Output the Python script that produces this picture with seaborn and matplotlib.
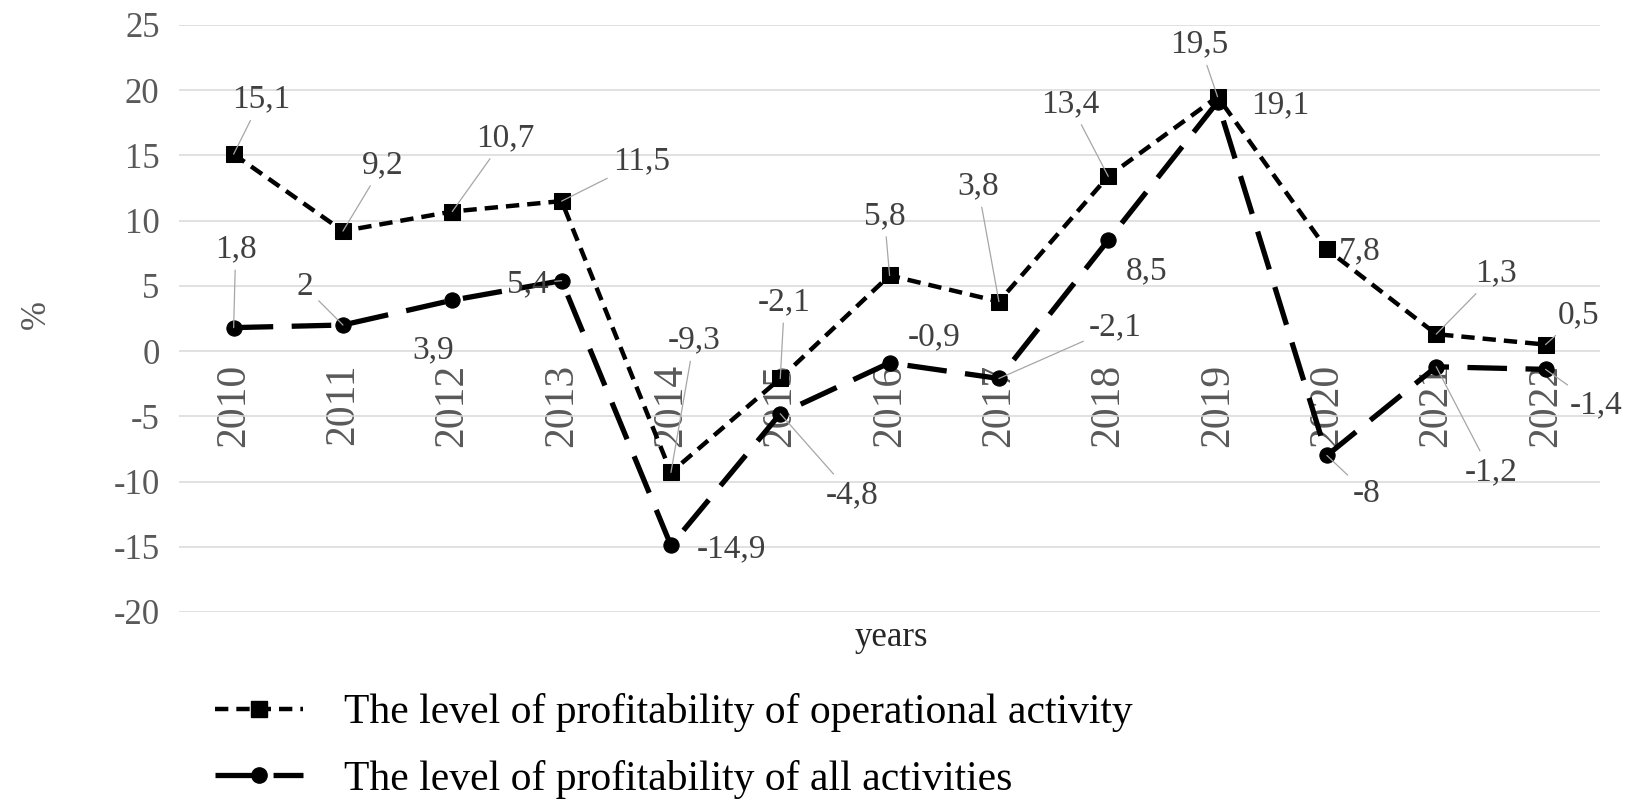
import matplotlib
matplotlib.use("Agg")
import matplotlib.pyplot as plt
from matplotlib.lines import Line2D
import pandas as pd
import numpy as np
import seaborn as sns

# data
years = [2010, 2011, 2012, 2013, 2014, 2015, 2016, 2017, 2018, 2019, 2020, 2021, 2022]
operational = [15.1, 9.2, 10.7, 11.5, -9.3, -2.1, 5.8, 3.8, 13.4, 19.5, 7.8, 1.3, 0.5]
all_activities = [1.8, 2.0, 3.9, 5.4, -14.9, -4.8, -0.9, -2.1, 8.5, 19.1, -8.0, -1.2, -1.4]
name_op = "The level of profitability of operational activity"
name_all = "The level of profitability of all activities"

# label placement (pixel offsets from the point, as Excel put them) and leader lines
op_offsets = [(26, -52), (38, -63), (50, -70), (76, -38), (22, -126), (4, -73), (-5, -57),
              (-20, -110), (-36, -69), (-17, -50), (31, 2), (57, -58), (31, -28)]
op_leader = [1, 1, 1, 1, 1, 1, 1, 1, 1, 1, 0, 1, 1]
all_offsets = [(2, -75), (-36, -36), (-18, 47), (-32, 3), (58, 3), (68, 77), (42, -25),
               (111, -49), (36, 29), (60, 3), (38, 36), (52, 100), (48, 34)]
all_leader = [1, 1, 0, 1, 0, 1, 0, 1, 0, 0, 1, 1, 1]

sns.set_style("white")
plt.rcParams['font.family'] = ['Liberation Serif', 'DejaVu Serif']
plt.rcParams['axes.unicode_minus'] = False

grey_txt = "#595959"
lbl_txt = "#404040"

fig, ax = plt.subplots(figsize=(16.48, 8.06), dpi=100)
fig.subplots_adjust(left=0.1086, right=0.971, top=0.969, bottom=0.2407)

sns.lineplot(x=years, y=operational, ax=ax, color="black", lw=3.2,
             linestyle=(0, (3, 1.8)), marker="s", ms=11, mec="black", mfc="black")
sns.lineplot(x=years, y=all_activities, ax=ax, color="black", lw=3.8,
             linestyle=(0, (7.5, 3.5)), marker="o", ms=11, mec="black", mfc="black")

for s in ax.spines.values():
    s.set_visible(False)
ax.spines['bottom'].set_position(('data', 0))

ax.set_ylim(-20, 25)
ax.set_xlim(years[0] - 0.5, years[-1] + 0.5)
ax.set_yticks(np.arange(-20, 26, 5))
ax.set_xticks(years)
ax.set_xticklabels([str(y) for y in years])
ax.yaxis.grid(True, color="#d9d9d9", lw=1.1)
ax.xaxis.grid(False)
ax.tick_params(axis="both", length=0, labelsize=25, labelcolor=grey_txt)
ax.tick_params(axis="x", pad=9, labelrotation=90, labelsize=30)
ax.tick_params(axis="y", pad=14)
ax.set_axisbelow(True)

ax.set_ylabel("%", fontsize=25, color=grey_txt, va="center")
ax.yaxis.set_label_coords(-0.1, 0.506)
ax.set_xlabel("years", fontsize=25, color="#262626", va="center")
ax.xaxis.set_label_coords(0.501, -0.044)


def fmt(v):
    return f"{v:g}".replace(".", ",")


def put_labels(vals, offsets, leaders):
    for x, v, (dx, dy), ld in zip(years, vals, offsets, leaders):
        arrow = None
        if ld:
            arrow = dict(arrowstyle="-", color="#a6a6a6", lw=0.9, shrinkA=2, shrinkB=0)
        ax.annotate(fmt(v), xy=(x, v), xytext=(dx * 1.051, -dy * 1.051),
                    textcoords="offset pixels", ha="center", va="center",
                    fontsize=24, color=lbl_txt, arrowprops=arrow, zorder=5)


put_labels(operational, op_offsets, op_leader)
put_labels(all_activities, all_offsets, all_leader)

handles = [
    Line2D([], [], color="black", lw=3.2, linestyle=(0, (3, 1.8)), marker="s", ms=11),
    Line2D([], [], color="black", lw=3.8, linestyle=(0, (7.5, 3.5)), marker="o", ms=11),
]
fig.legend(handles, [name_op, name_all], loc="center left",
           bbox_to_anchor=(0.1305, 0.0744), frameon=False, fontsize=30,
           handlelength=2.1, handletextpad=1.0, labelspacing=0.65,
           borderpad=0, borderaxespad=0, labelcolor="black")

fig.savefig("out.png", dpi=100)
